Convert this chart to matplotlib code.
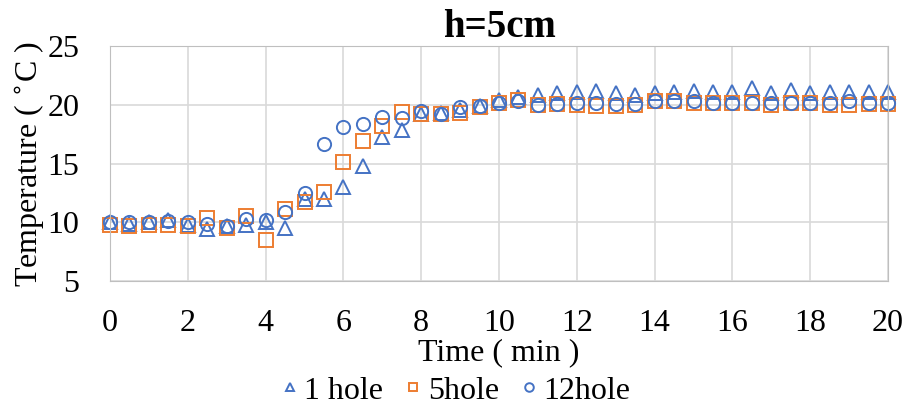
import numpy as np
import matplotlib.pyplot as plt

plt.rcParams['font.family'] = ['Liberation Serif', 'DejaVu Serif']

# Time (min), 0 to 20 every 0.5
time = [i * 0.5 for i in range(41)]

one_hole = [10.0, 9.9, 10.0, 10.2, 9.8, 9.4, 9.7, 9.8, 10.0, 9.5,
            12.0, 12.0, 13.0, 14.8, 17.3, 17.9, 19.2, 19.3, 19.6, 19.9,
            20.4, 20.7, 20.8, 21.0, 21.1, 21.2, 21.0, 20.8, 21.0, 21.1,
            21.2, 21.1, 21.1, 21.4, 21.0, 21.3, 21.0, 21.1, 21.1, 21.1, 21.1]
five_hole = [9.8, 9.7, 9.8, 9.8, 9.7, 10.4, 9.5, 10.5, 8.5, 11.1,
             11.7, 12.6, 15.1, 16.9, 18.2, 19.4, 19.2, 19.2, 19.3, 19.8,
             20.2, 20.4, 20.0, 20.1, 20.0, 19.9, 19.9, 20.0, 20.3, 20.3,
             20.2, 20.2, 20.2, 20.2, 20.0, 20.2, 20.2, 20.0, 20.0, 20.1, 20.1]
twelve_hole = [10.0, 10.0, 10.0, 10.1, 10.0, 9.9, 9.7, 10.3, 10.2, 10.9,
               12.5, 16.7, 18.1, 18.4, 19.0, 18.9, 19.5, 19.2, 19.8, 19.9,
               20.2, 20.3, 20.0, 20.1, 20.2, 20.2, 20.1, 20.1, 20.3, 20.3,
               20.3, 20.2, 20.2, 20.2, 20.2, 20.2, 20.2, 20.2, 20.3, 20.2, 20.2]

blue = '#4472C4'
orange = '#ED7D31'

fig = plt.figure(figsize=(9.09, 4.05), dpi=100)
ax = fig.add_axes([0.121, 0.306, 0.856, 0.58])

ms = 9.5
ax.plot(time, one_hole, '^', ms=ms, mfc='none', mec=blue, mew=1.4, label='1 hole', clip_on=False)
ax.plot(time, five_hole, 's', ms=ms, mfc='none', mec=orange, mew=1.4, label='5hole', clip_on=False)
ax.plot(time, twelve_hole, 'o', ms=ms, mfc='none', mec=blue, mew=1.4, label='12hole', clip_on=False)

ax.set_xlim(0, 20)
ax.set_ylim(5, 25)
ax.set_xticks(np.arange(0, 21, 2))
ax.set_yticks(np.arange(5, 26, 5))
ax.grid(True, color='#D9D9D9', lw=1.2)
ax.set_axisbelow(True)
for s in ax.spines.values():
    s.set_color('#BFBFBF')
ax.tick_params(length=0, labelsize=23)
ax.tick_params(axis='y', pad=22)
ax.tick_params(axis='x', pad=20)

ax.set_xlabel('Time ( min )', fontsize=23, labelpad=0)
ax.set_ylabel('Temperature ( $^{\\circ}$C )', fontsize=23, labelpad=0)
ax.set_title('h=5cm', fontsize=28, fontweight='bold', pad=2)

fig.legend(loc='center', bbox_to_anchor=(0.5, 0.035), ncol=3, frameon=False,
           fontsize=23, handletextpad=0.1, handlelength=0.7, columnspacing=0.6,
           markerscale=0.65, borderpad=0)

fig.savefig('out.png', dpi=100)
